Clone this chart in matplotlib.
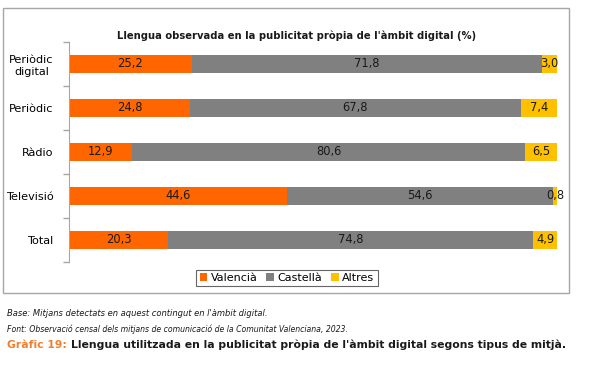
import matplotlib
matplotlib.use('Agg')
import matplotlib.pyplot as plt
from matplotlib.patches import Rectangle

plt.rcParams['font.family'] = ['DejaVu Sans']

categories = ['Periòdic\ndigital', 'Periòdic', 'Ràdio', 'Televisió', 'Total']
valencia = [25.2, 24.8, 12.9, 44.6, 20.3]
castella = [71.8, 67.8, 80.6, 54.6, 74.8]
altres = [3.0, 7.4, 6.5, 0.8, 4.9]
series_names = ['Valencià', 'Castellà', 'Altres']
colors = ['#FF6600', '#808080', '#FFC000']

fig = plt.figure(figsize=(5.97, 3.75), dpi=100)

# chart frame
fig.patches.append(Rectangle((3/597, 1-293/375), 566/597, 285/375, transform=fig.transFigure,
                             fill=False, edgecolor='#A6A6A6', linewidth=1.0))

ax = fig.add_axes([69/597, 1-262/375, 488/597, 220/375])
y = list(range(len(categories)))
left = [0] * len(categories)
for vals, name, col in zip([valencia, castella, altres], series_names, colors):
    bars = ax.barh(y, vals, left=left, height=0.39, color=col, label=name)
    for i, v in enumerate(vals):
        cx = left[i] + v / 2
        ax.text(cx, i, f'{v:.1f}'.replace('.', ','), ha='center', va='center',
                fontsize=8.3, color='#1a1a1a')
    left = [l + v for l, v in zip(left, vals)]

ax.set_xlim(0, 100)
ax.set_ylim(4.5, -0.5)
ax.set_xticks([])
ax.set_yticks(y)
ax.set_yticklabels(categories, fontsize=8.1)
ax.set_yticks([i - 0.5 for i in range(len(categories) + 1)], minor=True)
ax.tick_params(axis='y', which='major', length=0, pad=11)
ax.tick_params(axis='y', which='minor', length=4, color='#A6A6A6', width=1)
for s in ['top', 'right', 'bottom']:
    ax.spines[s].set_visible(False)
ax.spines['left'].set_color('#A6A6A6')
for lbl in ax.get_yticklabels():
    lbl.set_multialignment('center')

fig.text(297/597, 1-36/375, "Llengua observada en la publicitat pròpia de l'àmbit digital (%)",
         ha='center', va='center', fontsize=7.2, fontweight='bold', color='#1a1a1a')

leg = fig.legend(loc='center', bbox_to_anchor=(287/597, 1-278/375), ncol=3, fontsize=8,
                 frameon=True, fancybox=False, handlelength=0.7, handleheight=0.7,
                 handletextpad=0.3, columnspacing=0.8, borderpad=0.3, borderaxespad=0)
leg.get_frame().set_edgecolor('#404040')
leg.get_frame().set_linewidth(0.8)

fig.text(7/597, 1-314/375, "Base: Mitjans detectats en aquest contingut en l'àmbit digital.",
         ha='left', va='center', fontsize=6, style='italic', color='#1a1a1a')
fig.text(7/597, 1-329/375, "Font: Observació censal dels mitjans de comunicació de la Comunitat Valenciana, 2023.",
         ha='left', va='center', fontsize=5.6, style='italic', color='#1a1a1a')

# caption: orange prefix + black text, shrunk to fit the reference width
cap_size = 8.5
t1 = fig.text(7/597, 1-345/375, "Gràfic 19: ", ha='left', va='center', fontsize=cap_size,
              fontweight='bold', color='#F07F2E')
t2 = fig.text(0, 1-345/375, "Llengua utilitzada en la publicitat pròpia de l'àmbit digital segons tipus de mitjà.",
              ha='left', va='center', fontsize=cap_size, fontweight='bold', color='#1a1a1a')
fig.canvas.draw()
r = fig.canvas.get_renderer()
total = t1.get_window_extent(r).width + t2.get_window_extent(r).width
cap_size = cap_size * 561 / total
t1.set_fontsize(cap_size)
t2.set_fontsize(cap_size)
fig.canvas.draw()
t2.set_x(t1.get_window_extent(r).x1 / fig.bbox.width)

fig.savefig('out.png', dpi=100)
